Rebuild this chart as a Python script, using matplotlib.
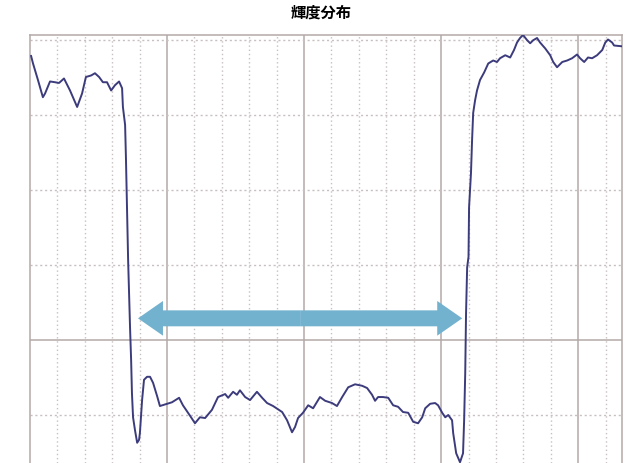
import matplotlib
matplotlib.use("Agg")
import matplotlib.pyplot as plt
from matplotlib.patches import FancyArrowPatch, ArrowStyle

plt.rcParams['font.family'] = ['Noto Sans CJK JP', 'DejaVu Sans']

title = "輝度分布"

# position in grid divisions (one dotted column = 1)
pos = [0.04, 0.11, 0.29, 0.47, 0.55, 0.73, 0.91, 1.06, 1.24, 1.46, 1.72, 1.90, 2.04, 2.23,
       2.37, 2.52, 2.66, 2.81, 2.96, 3.10, 3.25, 3.36, 3.39, 3.47, 3.50, 3.58, 3.65, 3.69,
       3.72, 3.76, 3.83, 3.91, 3.98, 4.01, 4.09, 4.16, 4.27, 4.38, 4.49, 4.64, 4.74, 5.00,
       5.18, 5.44, 5.58, 5.84, 6.02, 6.20, 6.39, 6.64, 6.86, 7.12, 7.23, 7.41, 7.55, 7.66,
       7.85, 8.03, 8.28, 8.47, 8.65, 8.87, 9.20, 9.38, 9.56, 9.67, 9.78, 9.96, 10.15, 10.33,
       10.58, 10.77, 11.02, 11.20, 11.39, 11.61, 11.86, 12.12, 12.30, 12.48, 12.59, 12.70,
       12.88, 13.07, 13.25, 13.43, 13.61, 13.80, 13.98, 14.16, 14.31, 14.42, 14.60, 14.78,
       14.89, 15.04, 15.15, 15.26, 15.40, 15.44, 15.55, 15.69, 15.80, 15.84, 15.88, 15.91,
       15.95, 16.00, 16.02, 16.09, 16.13, 16.17, 16.24, 16.31, 16.42, 16.57, 16.72, 16.90,
       17.04, 17.15, 17.34, 17.52, 17.66, 17.77, 17.88, 17.99, 18.14, 18.25, 18.36, 18.50,
       18.61, 18.80, 18.98, 19.09, 19.23, 19.42, 19.60, 19.78, 19.96, 20.07, 20.22, 20.36,
       20.51, 20.69, 20.88, 20.99, 21.09, 21.24, 21.31, 21.58]

# luminance in grid divisions (solid line = 0)
lum = [3.79, 3.69, 3.47, 3.24, 3.29, 3.45, 3.44, 3.43, 3.49, 3.33, 3.11, 3.29, 3.51, 3.53,
       3.56, 3.51, 3.44, 3.44, 3.33, 3.40, 3.45, 3.36, 3.11, 2.87, 2.44, 1.07, 0.17, -0.27,
       -0.71, -1.03, -1.20, -1.37, -1.33, -1.24, -0.80, -0.53, -0.49, -0.49, -0.57, -0.75,
       -0.88, -0.85, -0.83, -0.77, -0.87, -1.01, -1.11, -1.03, -1.04, -0.93, -0.76, -0.72,
       -0.77, -0.69, -0.73, -0.67, -0.76, -0.80, -0.69, -0.77, -0.84, -0.88, -0.96, -1.07,
       -1.23, -1.16, -1.04, -0.97, -0.87, -0.91, -0.76, -0.81, -0.84, -0.88, -0.76, -0.63,
       -0.59, -0.61, -0.64, -0.73, -0.81, -0.76, -0.76, -0.77, -0.87, -0.89, -0.96, -0.97,
       -1.09, -1.11, -1.03, -0.91, -0.85, -0.84, -0.87, -0.97, -1.03, -1.00, -1.07, -1.24,
       -1.51, -1.63, -1.51, -1.07, -0.44, 0.36, 0.97, 1.11, 1.77, 2.23, 2.67, 3.03, 3.20,
       3.33, 3.47, 3.57, 3.69, 3.73, 3.71, 3.76, 3.80, 3.77, 3.87, 3.97, 4.03, 4.07, 4.00,
       3.96, 4.00, 4.03, 3.97, 3.89, 3.80, 3.71, 3.64, 3.71, 3.73, 3.76, 3.81, 3.76, 3.71,
       3.77, 3.76, 3.80, 3.87, 3.97, 4.01, 3.97, 3.93, 3.92]

# width arrow (start, end, level)
arrow_x = (3.94, 15.77)
arrow_y = 0.29

fig = plt.figure(figsize=(6.42, 4.63), dpi=100)
ax = fig.add_axes([30 / 642, 0, 592 / 642, 428 / 463])
ax.set_xlim(0, 21.6)
ax.set_ylim(-1.64, 4.07)

solid_c = '#b3aaa8'
dot_c = '#c8c0c0'
for i in range(1, 22):
    if i % 5 == 0:
        ax.axvline(i, color=solid_c, lw=1.1, zorder=1)
    else:
        ax.axvline(i, color=dot_c, lw=1.0, ls=(0, (1, 2)), zorder=1)
for j in [-1, 1, 2, 3, 4]:
    ax.axhline(j, color=dot_c, lw=1.0, ls=(0, (1.5, 2)), zorder=1)
ax.axhline(0, color=solid_c, lw=1.1, zorder=1)

ax.plot(pos, lum, color='#3c3b7c', lw=1.4, zorder=3)

mid = sum(arrow_x) / 2
style = ArrowStyle.Simple(head_length=18, head_width=25, tail_width=11.5)
for end in arrow_x:
    ax.add_patch(FancyArrowPatch((mid, arrow_y), (end, arrow_y), arrowstyle=style,
                                 mutation_scale=1, color='#73b2cf', lw=0,
                                 shrinkA=0, shrinkB=0, zorder=4))

ax.set_xticks([])
ax.set_yticks([])
for s in ['left', 'top', 'right']:
    ax.spines[s].set_color(solid_c)
    ax.spines[s].set_linewidth(1.1)
ax.spines['bottom'].set_visible(False)

fig.text(0.5, 1 - 13 / 463, title, ha='center', va='center', fontsize=11, fontweight='bold')

fig.savefig('out.png', dpi=100)
